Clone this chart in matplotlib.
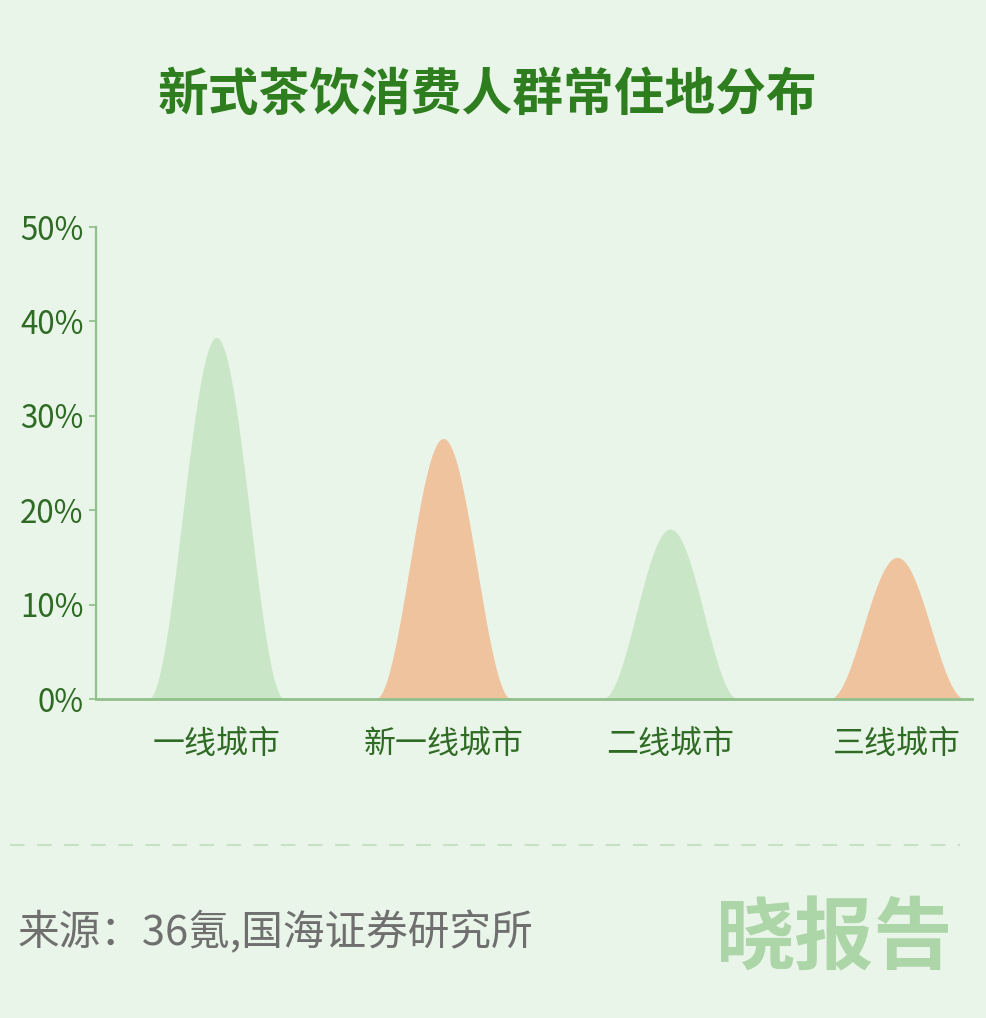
import numpy as np
import matplotlib
matplotlib.use("Agg")
import matplotlib.pyplot as plt
from matplotlib.ticker import FuncFormatter

plt.rcParams['font.family'] = ['Noto Sans CJK SC', 'DejaVu Sans']

categories = ['一线城市', '新一线城市', '二线城市', '三线城市']
values = [38.3, 27.6, 18.0, 15.0]
colors = ['#c9e7c7', '#f0c39f', '#c9e7c7', '#f0c39f']
yticks = [0, 10, 20, 30, 40, 50]

title = '新式茶饮消费人群常住地分布'
source = '来源：36氪,国海证券研究所'
logo = '晓报告'

bg = '#eaf5e9'
W, H = 986, 1018
fig = plt.figure(figsize=(W / 100, H / 100), dpi=100, facecolor=bg)

left, right, bottom, top = 96, 972, 699, 227
ax = fig.add_axes([left / W, 1 - bottom / H, (right - left) / W, (bottom - top) / H])
ax.set_facecolor(bg)

half = 0.30
for i, (v, c) in enumerate(zip(values, colors)):
    xs = np.linspace(-half, half, 200)
    ys = v * (1 + np.cos(np.pi * xs / half)) / 2
    ax.fill_between(i + xs, 0, ys, color=c, linewidth=0, zorder=2)

ax.set_xlim(-0.53, 3.33)
ax.set_ylim(0, 50)
ax.set_yticks(yticks)
ax.yaxis.set_major_formatter(FuncFormatter(lambda v, p: f'{int(v)}%'))
ax.set_xticks(range(len(categories)))
ax.set_xticklabels(categories)

axis_col = '#92c08d'
for s in ['top', 'right']:
    ax.spines[s].set_visible(False)
ax.spines['left'].set_color(axis_col)
ax.spines['bottom'].set_color(axis_col)
ax.spines['left'].set_linewidth(1.6)
ax.spines['bottom'].set_linewidth(2.0)
ax.spines['bottom'].set_zorder(3)

ax.tick_params(axis='y', length=5, width=1.3, color=axis_col, labelcolor='#2f6b25',
               labelsize=22.5, pad=4)
ax.tick_params(axis='x', length=0, labelcolor='#2f6b25', labelsize=23, pad=21)

fig.text(488 / W, 1 - 95 / H, title, ha='center', va='center',
         fontsize=36.5, fontweight='bold', color='#2e7d1e')

fig.add_artist(plt.Line2D([10 / W, 960 / W], [1 - 845 / H, 1 - 845 / H],
                          transform=fig.transFigure, color='#c8e0c5',
                          linewidth=1.5, dashes=(7, 6)))

fig.text(18 / W, 1 - 933 / H, source, ha='left', va='center',
         fontsize=30, color='#6f6f6f')
fig.text(835 / W, 1 - 940 / H, logo, ha='center', va='center',
         fontsize=57, fontweight='black', color='#acd5a8')

fig.savefig('out.png', dpi=100, facecolor=bg)
